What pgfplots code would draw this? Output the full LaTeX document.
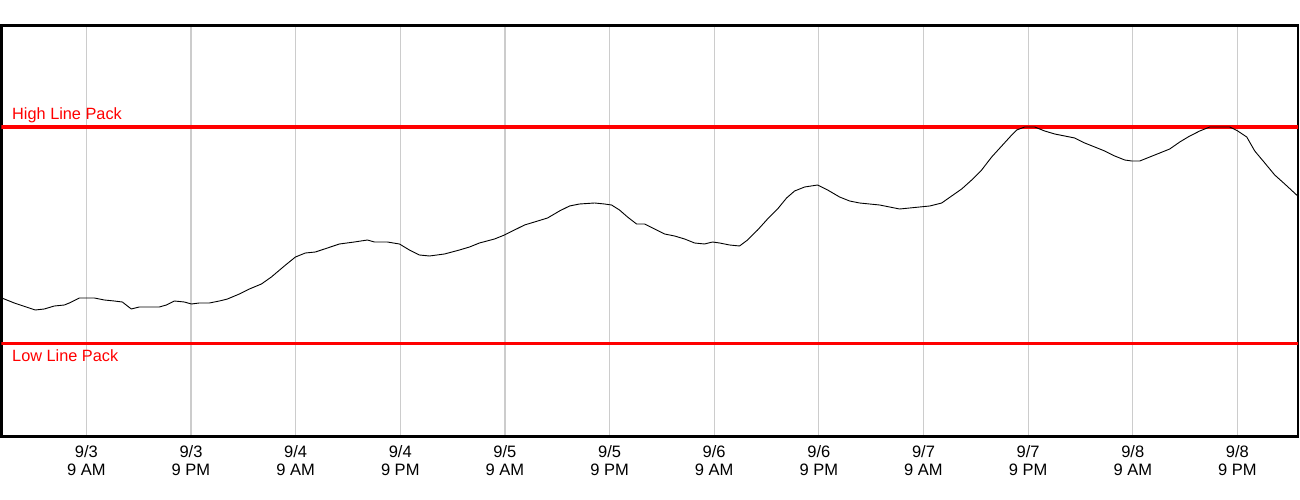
\documentclass[border=0pt]{standalone}
\usepackage{fontspec}
\setmainfont{Liberation Sans}
\usepackage{pgfplots}
\pgfplotsset{compat=1.18}
\definecolor{gridgray}{HTML}{CCCCCC}
\definecolor{lpred}{HTML}{FF0000}
\begin{document}
\begin{tikzpicture}
\begin{axis}[
  name=ax, at={(0,0)}, anchor=south west,
  scale only axis, width=1296.7pt, height=411.4pt,
  xmin=-9.75, xmax=138.95, ymin=0.3, ymax=411.7,
  axis line style={line width=2.6pt, black},
  ytick=\empty,
  xtick={0,12,24,36,48,60,72,84,96,108,120,132},
  xticklabels={{9/3\\9 AM},{9/3\\9 PM},{9/4\\9 AM},{9/4\\9 PM},{9/5\\9 AM},{9/5\\9 PM},{9/6\\9 AM},{9/6\\9 PM},{9/7\\9 AM},{9/7\\9 PM},{9/8\\9 AM},{9/8\\9 PM}},
  xticklabel style={align=center, font=\fontsize{16.5}{17.7}\selectfont, inner sep=0pt, anchor=north, yshift=-8.5pt},
  major tick length=0pt,
  xmajorgrids, grid style={gridgray, line width=1.2pt},
  clip=true,
]
\addplot[lpred, line width=3.3pt] coordinates {(-12,310) (142,310)};
\addplot[lpred, line width=3.3pt] coordinates {(-12,93.3) (142,93.3)};
\addplot[black, line width=0.9pt] coordinates {
(-9.98,140) (-8.26,134) (-5.85,127) (-4.82,128) (-3.67,131) (-2.52,132) (-1.95,134) (-0.80,139)
(0.92,139) (2.06,137) (3.21,136) (4.13,135) (5.16,128) (6.08,130) (8.37,130) (9.18,132)
(10.10,136) (11.24,135) (12.05,133) (12.96,134) (14.11,134) (15.26,136) (16.18,138) (17.55,143)
(18.70,148) (20.08,153) (21.22,160) (22.71,171) (23.98,180) (25.12,184) (26.27,185) (27.65,189)
(29.02,193) (30.74,195) (32.24,197) (33.04,195) (34.53,195) (35.91,193) (37.05,187) (38.20,182)
(39.35,181) (41.07,183) (42.79,187) (43.94,190) (45.08,194) (46.81,198) (47.95,202) (48.87,206)
(50.25,212) (51.39,215) (52.89,219) (54.26,226) (55.41,231) (56.56,233) (58.28,234) (59.42,233)
(60.23,232) (61.14,227) (62.06,220) (63.10,213) (64.01,213) (65.16,208) (66.31,203) (67.46,201)
(68.61,198) (69.75,194) (70.90,193) (71.82,195) (72.62,194) (73.77,192) (74.91,191) (75.83,197)
(76.98,207) (78.12,218) (79.27,228) (80.30,239) (81.22,246) (82.37,250) (83.86,252) (85.01,247)
(86.38,240) (87.53,236) (88.68,234) (89.83,233) (90.97,232) (92.12,230) (93.27,228) (94.41,229)
(95.56,230) (96.71,231) (98.09,234) (99.23,241) (100.38,248) (101.53,257) (102.67,267) (103.82,280)
(104.97,291) (106.12,302) (106.69,307) (107.61,310) (108.75,310) (109.90,306) (111.05,303) (112.20,301)
(113.34,299) (114.49,294) (115.64,290) (116.78,286) (117.93,281) (119.08,277) (119.88,276) (120.80,276)
(121.95,280) (123.10,284) (124.24,288) (125.39,295) (126.54,301) (127.68,306) (128.83,310) (131.12,310)
(132.04,306) (133.07,300) (133.99,286) (135.14,274) (136.28,262) (137.43,253) (138.92,241)
};
\node[anchor=base west, inner sep=0pt, text=lpred, font=\fontsize{16.3}{18}\selectfont] at (axis cs:-8.52,317) {High Line Pack};
\node[anchor=base west, inner sep=0pt, text=lpred, font=\fontsize{16.3}{18}\selectfont] at (axis cs:-8.52,75.3) {Low Line Pack};
\end{axis}
\pgfresetboundingbox
\useasboundingbox (-1.3pt,-63.3pt) rectangle (1298.7pt,436.7pt);
\end{tikzpicture}
\end{document}
